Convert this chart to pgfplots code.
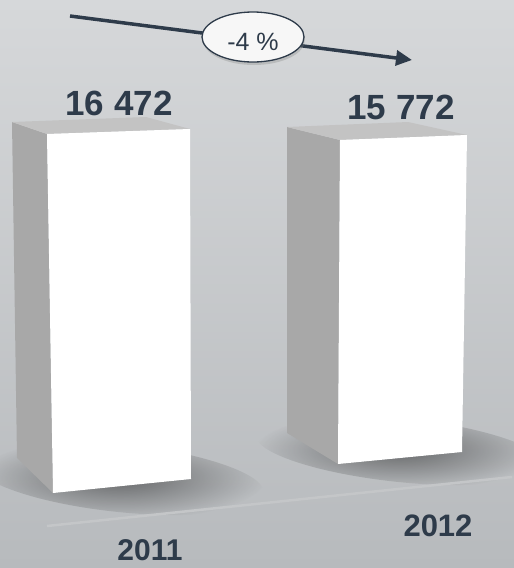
\documentclass[border=0pt]{standalone}
\usepackage{pgfplots}
\pgfplotsset{compat=1.18}
\usepackage{pgfplotstable}
\usepackage{fontspec}
\setmainfont{Liberation Sans}
\usetikzlibrary{fadings,shadows,shapes.geometric,arrows.meta}
\definecolor{txt}{HTML}{2E3B4A}
\definecolor{bgtop}{HTML}{D6D8DA}
\definecolor{bgbot}{HTML}{B7BABD}
\definecolor{sidegray}{HTML}{A8A8A8}
\definecolor{topgray}{HTML}{C3C3C3}
\definecolor{floor}{HTML}{C4C6C8}
\tikzfading[name=softshadow, inner color=transparent!0, outer color=transparent!100]

% bar polygons (front, side, top) in picture units
\pgfplotstableread{
x y
47 134
190 129
191 479
53 493
}\barAfront
\pgfplotstableread{
x y
12 122
47 134
53 493
17 458
}\barAside
\pgfplotstableread{
x y
12 122
146 117
190 129
47 134
}\barAtop
\pgfplotstableread{
x y
340 140
467 135
462 452
338 464
}\barBfront
\pgfplotstableread{
x y
287 127
340 140
338 464
287 433
}\barBside
\pgfplotstableread{
x y
287 127
408 122
467 135
340 140
}\barBtop

\begin{document}
\begin{tikzpicture}
\begin{axis}[scale only axis, width=514pt, height=568pt,
  xmin=0, xmax=514, ymin=0, ymax=568, y dir=reverse, hide axis, clip=false]
\path[top color=bgtop, bottom color=bgbot] (axis cs:0,0) rectangle (axis cs:514,568);
% shadows
\begin{scope}[overlay]
\clip (axis cs:0,0) rectangle (axis cs:514,568);
\fill[black, opacity=0.45, path fading=softshadow, rotate around={-6:(axis cs:120,478)}] (axis cs:120,478) ellipse [x radius=145, y radius=34];
\fill[black, opacity=0.45, path fading=softshadow, rotate around={-6:(axis cs:400,450)}] (axis cs:400,450) ellipse [x radius=145, y radius=32];
\end{scope}
% floor line
\draw[line width=2.5pt, floor] (axis cs:47,526) -- (axis cs:512,477);
% bars
\addplot[fill=sidegray, draw=none] table {\barAside} -- cycle;
\addplot[fill=topgray, draw=none] table {\barAtop} -- cycle;
\addplot[fill=white, draw=none] table {\barAfront} -- cycle;
\addplot[fill=sidegray, draw=none] table {\barBside} -- cycle;
\addplot[fill=topgray, draw=none] table {\barBtop} -- cycle;
\addplot[fill=white, draw=none] table {\barBfront} -- cycle;
% value labels
\node[anchor=base, txt, font=\fontsize{35}{35}\selectfont\bfseries] at (axis cs:119,115) {16 472};
\node[anchor=base, txt, font=\fontsize{35}{35}\selectfont\bfseries] at (axis cs:401,119) {15 772};
% category labels
\node[anchor=base, inner sep=0pt, txt, font=\fontsize{30}{30}\selectfont\bfseries] at (axis cs:150,560) {2011};
\node[anchor=base, inner sep=0pt, txt, font=\fontsize{31}{31}\selectfont\bfseries] at (axis cs:438,536) {2012};
% trend arrow
\draw[txt, line width=3.5pt, -{Triangle[length=16pt, width=15pt]}] (axis cs:70,16) -- (axis cs:412,60);
\node[ellipse, draw=txt, line width=1.3pt, fill=white!94!gray, minimum width=102pt, minimum height=50pt, inner sep=0pt,
  drop shadow={opacity=0.3, shadow xshift=1pt, shadow yshift=-3pt}] at (axis cs:253,37) {};
\node[anchor=base, txt, font=\fontsize{25}{25}\selectfont] at (axis cs:253,50) {-4 \%};
\end{axis}
\end{tikzpicture}
\end{document}
